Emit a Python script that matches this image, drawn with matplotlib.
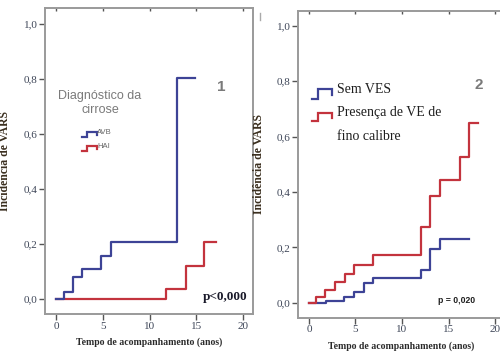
import matplotlib.pyplot as plt
from matplotlib.lines import TICKDOWN
from matplotlib.ticker import FixedLocator, FuncFormatter

# Panel 1: diagnostico da cirrose
avb_t = [0, 0.8, 1.8, 2.8, 4.8, 5.9, 12.9, 14.9]
avb_y = [0, 0.025, 0.079, 0.107, 0.154, 0.206, 0.804, 0.804]
hai_t = [0, 11.8, 13.9, 15.8, 17.1]
hai_y = [0, 0.036, 0.119, 0.207, 0.207]

# Panel 2: varizes
sem_t = [0, 1.83, 3.8, 4.87, 5.88, 6.92, 12.0, 13.05, 14.1, 17.2]
sem_y = [0, 0.006, 0.022, 0.038, 0.072, 0.091, 0.12, 0.194, 0.231, 0.231]
ve_t = [0, 0.72, 1.72, 2.8, 3.83, 4.87, 6.92, 12.0, 13.05, 14.1, 16.2, 17.2, 18.2]
ve_y = [0, 0.022, 0.046, 0.075, 0.105, 0.138, 0.174, 0.273, 0.387, 0.443, 0.525, 0.648, 0.648]

xticks = [0, 5, 10, 15, 20]
yticks = [0.0, 0.2, 0.4, 0.6, 0.8, 1.0]

BLUE = "#3d4396"
RED = "#c3333d"
SPINE = "#9a9a9a"
SERIF = "Liberation Serif"
SANS = "Liberation Sans"

fig = plt.figure(figsize=(5.0, 3.52), dpi=100)
ax1 = fig.add_axes([0.090, 0.108, 0.416, 0.869])
ax2 = fig.add_axes([0.596, 0.097, 0.414, 0.872])


def style(ax, ylo, yhi, ylab_x):
    ax.set_xlim(-1.18, 21.07)
    ax.set_ylim(ylo, yhi)
    for s in ax.spines.values():
        s.set_color(SPINE)
        s.set_linewidth(1.4)
    ax.xaxis.set_major_locator(FixedLocator(xticks))
    ax.yaxis.set_major_locator(FixedLocator(yticks))
    ax.yaxis.set_major_formatter(FuncFormatter(lambda v, p: f"{v:.1f}".replace(".", ",")))
    ax.tick_params(axis="both", direction="out", length=4, width=1, color="#555555",
                   labelsize=8, labelcolor="#3e4658", pad=1.5)
    ax.tick_params(axis="x", top=True, labeltop=False)
    for lab in ax.get_xticklabels() + ax.get_yticklabels():
        lab.set_fontfamily(SERIF)
    for t in ax.xaxis.get_major_ticks():
        t.tick2line.set_marker(TICKDOWN)
        t.tick2line.set_markersize(2.5)
        t.tick2line.set_color(SPINE)
    ax.set_xlabel("Tempo de acompanhamento (anos)", fontsize=7, fontweight="bold",
                  family=SERIF, color="#2a2a2a", labelpad=5)
    ax.set_ylabel("Incidência de VARS", fontsize=8.5, fontweight="bold",
                  family=SERIF, color="#3a2e1e")
    ax.yaxis.set_label_coords(ylab_x, 0.5)


def step_icon(ax, x0, y0, w, h, color):
    xs = [x0, x0 + 0.3 * w, x0 + 0.3 * w, x0 + w, x0 + w]
    ys = [y0, y0, y0 + h, y0 + h, y0 + 0.35 * h]
    ax.plot(xs, ys, color=color, lw=1.6, transform=ax.transAxes, clip_on=False,
            solid_joinstyle="miter")


# ---- panel 1
style(ax1, -0.056, 1.057, -0.165)
ax1.step(hai_t, hai_y, where="post", color=RED, lw=1.6)
ax1.step(avb_t, avb_y, where="post", color=BLUE, lw=1.6)
ax1.text(0.265, 0.69, "Diagnóstico da\ncirrose", transform=ax1.transAxes, ha="center",
         va="center", fontsize=9, family=SANS, color="#7a7a7a", linespacing=1.2)
step_icon(ax1, 0.18, 0.578, 0.07, 0.017, BLUE)
ax1.text(0.252, 0.594, "AVB", transform=ax1.transAxes, fontsize=5.5, family=SANS,
         color="#666666", va="center")
step_icon(ax1, 0.18, 0.532, 0.07, 0.017, RED)
ax1.text(0.252, 0.546, "HAI", transform=ax1.transAxes, fontsize=5.5, family=SANS,
         color="#666666", va="center")
ax1.text(0.846, 0.742, "1", transform=ax1.transAxes, ha="center", va="center",
         fontsize=11, fontweight="bold", family=SANS, color="#7a7a7a")
ax1.text(0.975, 0.055, "p<0,000", transform=ax1.transAxes, ha="right", va="center",
         fontsize=9.5, fontweight="bold", family=SERIF, color="#1a1a2a")

# ---- panel 2
style(ax2, -0.054, 1.054, -0.16)
ax2.step(sem_t, sem_y, where="post", color=BLUE, lw=1.6)
ax2.step(ve_t, ve_y, where="post", color=RED, lw=1.6)
step_icon(ax2, 0.066, 0.714, 0.097, 0.030, BLUE)
ax2.text(0.19, 0.745, "Sem VES", transform=ax2.transAxes, fontsize=10, family=SERIF,
         color="#1e1e1e", va="center")
step_icon(ax2, 0.066, 0.642, 0.097, 0.027, RED)
ax2.text(0.19, 0.669, "Presença de VE de", transform=ax2.transAxes,
         fontsize=10, family=SERIF, color="#1e1e1e", va="center")
ax2.text(0.19, 0.591, "fino calibre", transform=ax2.transAxes,
         fontsize=10, family=SERIF, color="#1e1e1e", va="center")
ax2.text(0.875, 0.757, "2", transform=ax2.transAxes, ha="center", va="center",
         fontsize=11, fontweight="bold", family=SANS, color="#7a7a7a")
ax2.text(0.765, 0.058, "p = 0,020", transform=ax2.transAxes, ha="center", va="center",
         fontsize=6.2, fontweight="bold", family=SANS, color="#1e1e1e")

# small mark between panels
fig.add_artist(plt.Line2D([260 / 500, 260 / 500], [1 - 13 / 352, 1 - 20 / 352],
                          color="#aaaaaa", lw=1))

fig.savefig("out.png", dpi=100)
